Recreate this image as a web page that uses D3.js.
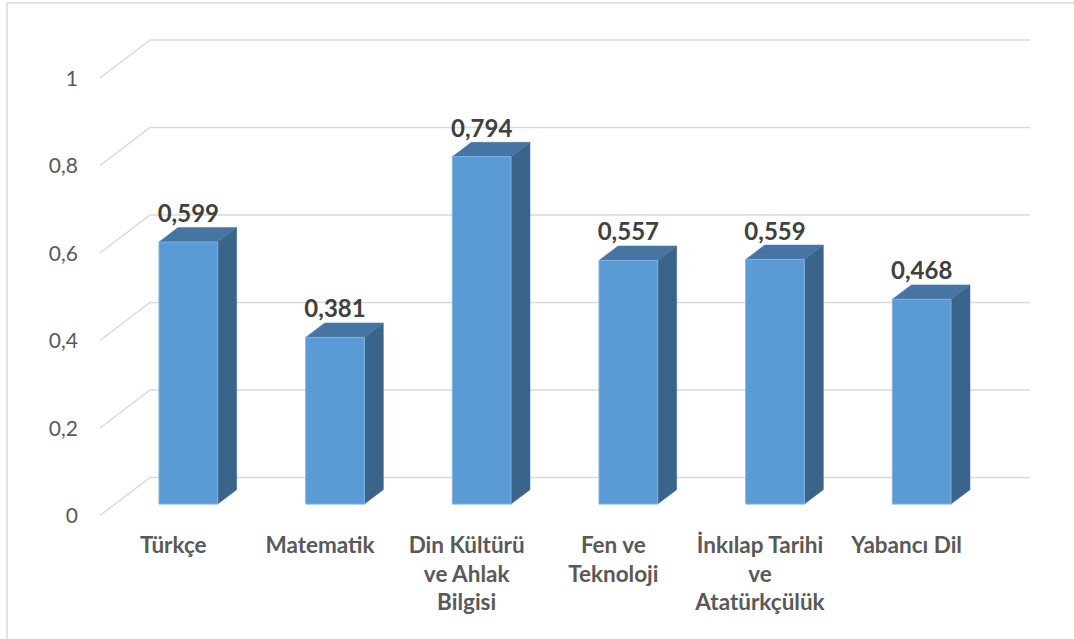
<!DOCTYPE html>
<html>
<head>
<meta charset="utf-8">
<script src="https://cdn.jsdelivr.net/npm/d3@7"></script>
<style>
  html, body { margin: 0; padding: 0; background: #fff; }
  svg { display: block; }
</style>
</head>
<body>
<svg id="chart" width="1074" height="639"></svg>
<script>
// ---- data ----
const categories = ["Türkçe", "Matematik", "Din Kültürü ve Ahlak Bilgisi", "Fen ve Teknoloji", "İnkılap Tarihi ve Atatürkçülük", "Yabancı Dil"];
const categoryLines = [["Türkçe"], ["Matematik"], ["Din Kültürü", "ve Ahlak", "Bilgisi"], ["Fen ve", "Teknoloji"], ["İnkılap Tarihi", "ve", "Atatürkçülük"], ["Yabancı Dil"]];
const values = [0.599, 0.381, 0.794, 0.557, 0.559, 0.468];
const valueLabels = ["0,599", "0,381", "0,794", "0,557", "0,559", "0,468"];
const yTicks = [0, 0.2, 0.4, 0.6, 0.8, 1];
const yTickLabels = ["0", "0,2", "0,4", "0,6", "0,8", "1"];

// ---- layout ----
const svg = d3.select("#chart");
const frontLeft = 100, frontRight = 980;
const floorFrontY = 515.5;
const depthDX = 50, depthDY = -38;
const plotH = 437.5;
const barDepthStart = 0.30, barDepthEnd = 0.68;

const x = d3.scaleBand().domain(categories).range([frontLeft, frontRight]).paddingInner(0.6).paddingOuter(0.3);
const xc = d3.scaleBand().domain(categories).range([frontLeft, frontRight]).padding(0);
const y = d3.scaleLinear().domain([0, 1]).range([0, plotH]);

function pt(xf, f, v) { return [xf + f * depthDX, floorFrontY + f * depthDY - y(v)]; }

// outer border
svg.append("rect").attr("x", 7).attr("y", 3).attr("width", 1080).attr("height", 650)
  .attr("fill", "none").attr("stroke", "#d9d9d9").attr("stroke-width", 1.5);

// gridlines
const grid = svg.append("g").attr("fill", "none").attr("stroke", "#d9d9d9").attr("stroke-width", 1.5);
yTicks.forEach(t => {
  const a = pt(frontLeft, 0, t), b = pt(frontLeft, 1, t), c = pt(frontRight, 1, t);
  grid.append("path").attr("d", d3.line()([a, b, c]));
});

// y tick labels
svg.append("g").selectAll("text").data(yTicks).join("text")
  .attr("x", 78).attr("y", (d) => floorFrontY - y(d))
  .attr("dy", "0.36em")
  .attr("text-anchor", "end")
  .attr("font-family", "Lato, 'Open Sans', sans-serif")
  .attr("font-size", 21).attr("fill", "#595959")
  .text((d, i) => yTickLabels[i]);

// bars
const bars = svg.append("g");
categories.forEach((c, i) => {
  const v = values[i];
  const x0 = x(c), x1 = x(c) + x.bandwidth();
  const g = bars.append("g");
  const f0 = pt(x0, barDepthStart, 0), f1 = pt(x1, barDepthStart, 0), f2 = pt(x1, barDepthStart, v), f3 = pt(x0, barDepthStart, v);
  const b1 = pt(x1, barDepthEnd, 0), b2 = pt(x1, barDepthEnd, v), b3 = pt(x0, barDepthEnd, v);
  g.append("path").attr("d", d3.line()([f1, b1, b2, f2]) + "Z").attr("fill", "#3a6489").attr("stroke", "#3a6489").attr("stroke-width", 0.5);
  g.append("path").attr("d", d3.line()([f3, f2, b2, b3]) + "Z").attr("fill", "#4675a4").attr("stroke", "#4675a4").attr("stroke-width", 0.5);
  g.append("path").attr("d", d3.line()([f0, f1, f2, f3]) + "Z").attr("fill", "#5b9bd5").attr("stroke", "#7fb3e0").attr("stroke-width", 1);
});

// value labels
svg.append("g").selectAll("text").data(categories).join("text")
  .attr("x", (c) => pt(x(c) + x.bandwidth() / 2, barDepthStart, 0)[0])
  .attr("y", (c, i) => pt(0, barDepthStart, values[i])[1] - 20)
  .attr("text-anchor", "middle")
  .attr("font-family", "Lato, 'Open Sans', sans-serif")
  .attr("font-weight", "bold")
  .attr("font-size", 24).attr("fill", "#404040")
  .text((c, i) => valueLabels[i]);

// category labels
const cat = svg.append("g")
  .attr("font-family", "Lato, 'Open Sans', sans-serif")
  .attr("font-weight", "bold")
  .attr("font-size", 22.5).attr("fill", "#595959")
  .attr("text-anchor", "middle");
categories.forEach((c, i) => {
  const cx = xc(c) + xc.bandwidth() / 2;
  const t = cat.append("text").attr("x", cx).attr("y", 553);
  categoryLines[i].forEach((ln, j) => {
    t.append("tspan").attr("x", cx).attr("y", 553 + j * 28.5).text(ln);
  });
});
</script>
</body>
</html>
